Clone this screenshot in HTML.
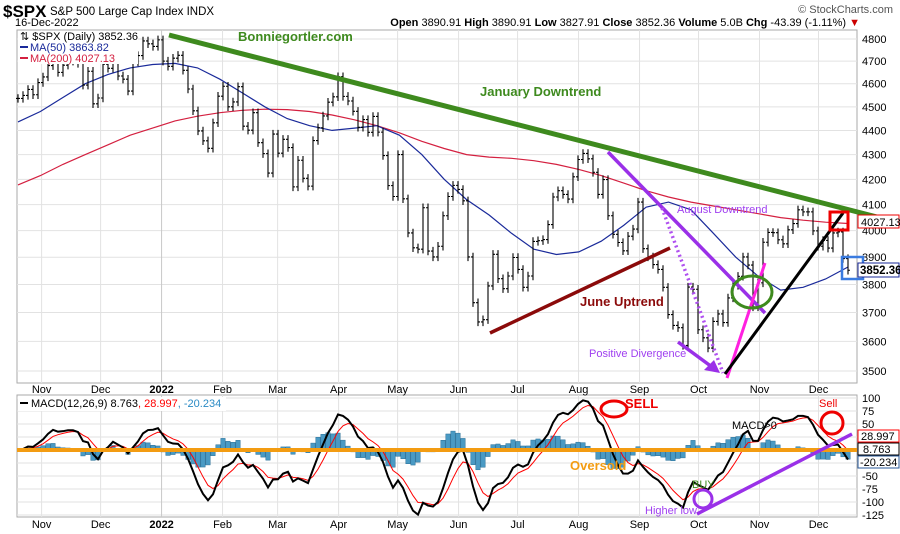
<!DOCTYPE html>
<html><head><meta charset="utf-8"><style>
html,body{margin:0;padding:0;background:#fff;width:900px;height:534px;overflow:hidden}
svg{display:block;font-family:"Liberation Sans",sans-serif}
</style></head><body>
<svg id="c" width="900" height="534" viewBox="0 0 900 534">
<g id="hdr">
<text x="3" y="17" font-size="17" font-weight="bold" fill="#000">$SPX</text>
<text x="50" y="15" font-size="11.5" fill="#000">S&amp;P 500 Large Cap Index  INDX</text>
<text x="15" y="26" font-size="11" fill="#000">16-Dec-2022</text>
<text x="860" y="26" font-size="11" text-anchor="end" fill="#000"><tspan font-weight="bold">Open</tspan> 3890.91 <tspan font-weight="bold">High</tspan> 3890.91 <tspan font-weight="bold">Low</tspan> 3827.91 <tspan font-weight="bold">Close</tspan> 3852.36 <tspan font-weight="bold">Volume</tspan> 5.0B <tspan font-weight="bold">Chg</tspan> -43.39 (-1.11%) <tspan fill="#c00">▼</tspan></text>
<text x="893" y="13" font-size="11" text-anchor="end" fill="#555">© StockCharts.com</text>
</g>
<g id="grid"></g>
<g id="ma"></g>
<g id="bars"></g>
<g id="macdg"></g>
<g id="axes"></g>
<g id="ann"></g>
</svg>
<script>
var NS='http://www.w3.org/2000/svg';
// ---- data ----
var closes=[4536,4549,4575,4552,4605,4630,4680,4697,4650,4682,4700,4704,4690,4594,4655,4513,4538,4686,4668,4712,4634,4620,4568,4696,4725,4791,4778,4766,
4796,4700,4677,4713,4726,4659,4577,4483,4398,4357,4326,4432,4546,4589,4500,4521,4587,4418,4401,4475,4349,4304,4225,4385,4306,4363,4329,4170,4277,4204,4173,4358,4411,4461,4520,4543,4631,4545,4525,4481,4413,4446,4392,4459,4393,4296,4175,4132,4300,4123,3991,3935,3930,4088,3923,3901,3941,4057,4132,4176,4160,4115,3901,3735,3667,3675,3795,3911,3821,3785,3831,3899,3855,3790,3831,3959,3962,3966,4023,4130,4155,4140,4122,4210,4280,4305,4283,4228,4140,4199,4057,3986,3955,3924,3979,4006,4110,3932,3901,3873,3855,3790,3693,3655,3647,3586,3791,3783,3640,3612,3577,3669,3695,3665,3752,3797,3830,3901,3871,3720,3806,3956,3993,3992,3965,3950,4003,4027,4080,4072,4072,3999,3941,3963,3934,3991,3995,3895,3852];
var ma50=[4436,4480,4540,4600,4640,4670,4685,4690,4670,4620,4560,4500,4450,4420,4400,4410,4420,4380,4300,4200,4120,4060,3990,3930,3910,3920,3960,4020,4090,4110,4080,3990,3900,3830,3780,3790,3820,3864];
var ma200=[4178,4215,4260,4300,4340,4380,4410,4440,4460,4475,4485,4490,4488,4480,4465,4445,4420,4390,4355,4325,4300,4290,4285,4275,4260,4240,4215,4185,4155,4130,4110,4095,4080,4065,4050,4040,4032,4027];
var priceTicks=[3500,3600,3700,3800,3900,4000,4100,4200,4300,4400,4500,4600,4700,4800];
var macdTicks=[100,75,50,25,0,-25,-50,-75,-100,-125];
var monthLabels=['Nov','Dec','2022','Feb','Mar','Apr','May','Jun','Jul','Aug','Sep','Oct','Nov','Dec'];
var monthDays=[12,42,73,104,132,163,193,224,254,285,316,346,377,407];
// ---- axes ----
var X0=18,X1=848,L=17,R=857;
function xi(i){return X0+i*(X1-X0)/(closes.length-1);}
function xm(i,n){return X0+i*(X1-X0)/(n-1);}
function xd(d){return X0+d*(X1-X0)/422;}
function yP(p){return 39+(Math.log(4800)-Math.log(p))*1051;}
function yM(v){return 450-0.52*v;}
function el(t,a,p){var e=document.createElementNS(NS,t);for(var k in a)e.setAttribute(k,a[k]);(p||document.getElementById('c')).appendChild(e);return e;}
var G=document.getElementById('grid'),A=document.getElementById('axes'),B=document.getElementById('bars'),M=document.getElementById('ma'),MG=document.getElementById('macdg');
var p1=el('rect',{x:L,y:30,width:R-L,height:353,fill:'#fff',stroke:'#aaa'},G);


var p2=el('rect',{x:L,y:395,width:R-L,height:122,fill:'#fff',stroke:'#aaa'},G);


priceTicks.forEach(function(p){
 var y=yP(p);
 var g=el('line',{x1:L,x2:R,y1:y,y2:y,stroke:'#e2e2e2'},G);
 
 
 var t=el('text',{x:862,y:y+4,'font-size':11,fill:'#000'},A);t.textContent=p;
 
 
});
macdTicks.forEach(function(v){
 var y=yM(v);
 var g=el('line',{x1:L,x2:R,y1:y,y2:y,stroke:'#e2e2e2'},G);
 
 
 var t=el('text',{x:862,y:y+4,'font-size':11,fill:'#000'},A);t.textContent=v;
 
 
});
monthLabels.forEach(function(m,k){
 var x=xd(monthDays[k]);
 var bold=m==='2022';
 [[30,383],[395,517]].forEach(function(r){
  var g=el('line',{x1:x,x2:x,y1:r[0],y2:r[1],stroke:bold?'#c8c8c8':'#e2e2e2'},G);
  
  
 });
 [393,528].forEach(function(y){
  var t=el('text',{x:x,y:y,'font-size':11,'text-anchor':'middle',fill:'#000','font-weight':bold?'bold':'normal'},A);t.textContent=m;
  
  
 });
});
function pts(arr,fy){return arr.map(function(v,i){return xm(i,arr.length).toFixed(1)+','+fy(v).toFixed(1);}).join(' ');}
var l200=el('polyline',{points:pts(ma200,yP),fill:'none',stroke:'#d42040','stroke-width':1.2},M);


var l50=el('polyline',{points:pts(ma50,yP),fill:'none',stroke:'#1a2a9a','stroke-width':1.2},M);


closes.forEach(function(c,i){
 var pv=i?closes[i-1]:c;
 var hi=Math.max(pv,c)*1.004,lo=Math.min(pv,c)*0.996;
 var x=xi(i);
 var b=el('path',{d:'M'+x+','+yP(hi)+'V'+yP(lo)+'M'+(x-2)+','+yP(pv)+'H'+x+'M'+x+','+yP(c)+'H'+(x+2),stroke:'#000','stroke-width':1.1,fill:'none'},B);
 
 
});
function ema(arr,n){var a=2/(n+1),o=[],e=arr[0];arr.forEach(function(v){e=e+a*(v-e);o.push(e);});return o;}
var e12=ema(closes,6),e26=ema(closes,13);
var macd=closes.map(function(c,i){return e12[i]-e26[i];});
var sig=ema(macd,4.5);
macd.forEach(function(m,i){
 var h=m-sig[i],x=xi(i);
 var r=el('rect',{x:x-2.2,y:Math.min(yM(h),yM(0)),width:4.4,height:Math.abs(yM(h)-yM(0)),fill:'#4a9ac4',stroke:'#2a6f96','stroke-width':0.5},MG);
 
 
});
var ls=el('polyline',{points:sig.map(function(v,i){return xi(i)+','+yM(v);}).join(' '),fill:'none',stroke:'#f00','stroke-width':1},MG);


var lm=el('polyline',{points:macd.map(function(v,i){return xi(i)+','+yM(v);}).join(' '),fill:'none',stroke:'#000','stroke-width':2},MG);


</script>
<script>
var AN=document.getElementById('ann');
AN.innerHTML=''+
'<line x1="17" y1="450" x2="857" y2="450" stroke="#f39c12" stroke-width="4"/>'+
'<line x1="169" y1="35" x2="877" y2="217" stroke="#3e8a1e" stroke-width="5"/>'+
'<line x1="490" y1="333" x2="670" y2="248" stroke="#8b0a0a" stroke-width="3.5"/>'+
'<line x1="608" y1="152" x2="765" y2="313" stroke="#9a30e8" stroke-width="3.5"/>'+
'<line x1="662" y1="208" x2="723" y2="373" stroke="#b050f0" stroke-width="3.5" stroke-dasharray="2,3"/>'+
'<line x1="727" y1="378" x2="765" y2="263" stroke="#ff20e0" stroke-width="3"/>'+
'<line x1="725" y1="374" x2="843" y2="213" stroke="#000" stroke-width="3"/>'+
'<ellipse cx="752" cy="292" rx="20" ry="16" fill="none" stroke="#3e8a1e" stroke-width="3"/>'+
'<rect x="830" y="212" width="18" height="18" fill="none" stroke="#e00" stroke-width="3"/>'+
'<rect x="842" y="257" width="21" height="22" fill="none" stroke="#3a7be0" stroke-width="2.5"/>'+
'<line x1="678" y1="342" x2="712" y2="367" stroke="#9a30e8" stroke-width="3.5"/>'+
'<polygon points="720,373 704,370 714,360" fill="#9a30e8"/>'+
'<text x="238" y="41" font-size="13" font-weight="bold" fill="#3e8a1e">Bonniegortler.com</text>'+
'<text x="480" y="96" font-size="13" font-weight="bold" fill="#3e8a1e">January Downtrend</text>'+
'<text x="580" y="306" font-size="13" font-weight="bold" fill="#8b0a0a">June Uptrend</text>'+
'<text x="677" y="213" font-size="11" fill="#a040f0">August Downtrend</text>'+
'<text x="589" y="357" font-size="11" fill="#a040f0">Positive Divergence</text>'+
'<rect x="18" y="31" width="120" height="33" fill="#fff"/>'+
'<text x="20" y="40" font-size="11" fill="#000">⇅ $SPX (Daily) 3852.36</text>'+
'<line x1="20" y1="47" x2="28" y2="47" stroke="#1a2a9a" stroke-width="2"/>'+
'<text x="30" y="51" font-size="11" fill="#1a2a9a">MA(50) 3863.82</text>'+
'<line x1="20" y1="58" x2="28" y2="58" stroke="#d42040" stroke-width="2"/>'+
'<text x="30" y="62" font-size="11" fill="#d42040">MA(200) 4027.13</text>'+
'<rect x="858" y="215" width="41" height="13" fill="#fff" stroke="#e00"/>'+
'<text x="861" y="226" font-size="11" fill="#000">4027.13</text>'+
'<rect x="858" y="263" width="41" height="14" fill="#fff" stroke="#1a2a9a"/>'+
'<text x="860" y="274" font-size="11.5" font-weight="bold" fill="#000">3852.36</text>'+
'<rect x="18" y="397" width="208" height="14" fill="#fff"/>'+
'<line x1="20" y1="403" x2="28" y2="403" stroke="#000" stroke-width="2"/>'+
'<text x="31" y="407" font-size="11" fill="#000">MACD(12,26,9) 8.763<tspan fill="#f00">, 28.997</tspan><tspan fill="#2a8ac4">, -20.234</tspan></text>'+
'<rect x="858" y="430" width="41" height="12" fill="#fff" stroke="#f00"/>'+
'<text x="861" y="440" font-size="11" fill="#000">28.997</text>'+
'<rect x="858" y="443" width="41" height="12" fill="#fff" stroke="#000"/>'+
'<text x="863" y="453" font-size="11" fill="#000">8.763</text>'+
'<rect x="858" y="456" width="41" height="12" fill="#fff" stroke="#2a5a9a"/>'+
'<text x="860" y="466" font-size="11" fill="#000">-20.234</text>'+
'<ellipse cx="614" cy="409" rx="13" ry="8" fill="none" stroke="#e00" stroke-width="3"/>'+
'<text x="625" y="408" font-size="13" font-weight="bold" fill="#e00">SELL</text>'+
'<text x="819" y="407" font-size="11" fill="#e00">Sell</text>'+
'<circle cx="832" cy="423" r="11" fill="none" stroke="#e00" stroke-width="3"/>'+
'<text x="732" y="429" font-size="11" fill="#000">MACD&gt;0</text>'+
'<text x="570" y="470" font-size="13" font-weight="bold" fill="#f39c12">Oversold</text>'+
'<text x="692" y="488" font-size="11" fill="#3e8a1e">BUY</text>'+
'<circle cx="703" cy="499" r="9" fill="none" stroke="#9a30e8" stroke-width="3"/>'+
'<line x1="697" y1="514" x2="852" y2="434" stroke="#9a30e8" stroke-width="3.5"/>'+
'<text x="645" y="514" font-size="11" fill="#a040f0">Higher low</text>';
</script>
</body></html>
